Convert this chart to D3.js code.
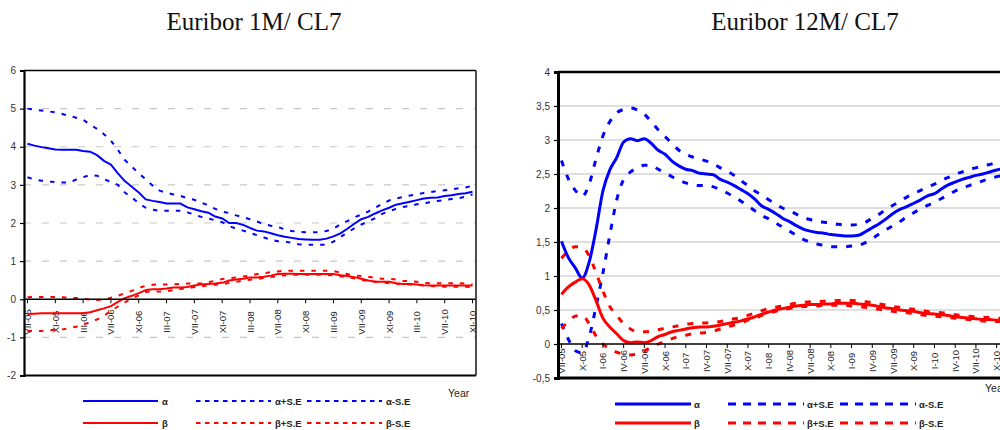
<!DOCTYPE html>
<html><head><meta charset="utf-8">
<script src="https://cdn.jsdelivr.net/npm/d3@7"></script>
<style>
html,body{margin:0;padding:0;background:#fff;}
svg{display:block;}
</style></head>
<body>
<svg id="c" width="1000" height="430"></svg>
<script>
// ---------- DATA ----------
const months = ["VII-05","VIII-05","IX-05","X-05","XI-05","XII-05",
"I-06","II-06","III-06","IV-06","V-06","VI-06","VII-06","VIII-06","IX-06","X-06","XI-06","XII-06",
"I-07","II-07","III-07","IV-07","V-07","VI-07","VII-07","VIII-07","IX-07","X-07","XI-07","XII-07",
"I-08","II-08","III-08","IV-08","V-08","VI-08","VII-08","VIII-08","IX-08","X-08","XI-08","XII-08",
"I-09","II-09","III-09","IV-09","V-09","VI-09","VII-09","VIII-09","IX-09","X-09","XI-09","XII-09",
"I-10","II-10","III-10","IV-10","V-10","VI-10","VII-10","VIII-10","IX-10","X-10","XI-10"];

const leftTicks = ["VII-05","XI-05","III-06","VII-06","XI-06","III-07","VII-07","XI-07","III-08","VII-08","XI-08","III-09","VII-09","XI-09","III-10","VII-10","XI-10"];
const rightTicks = ["VII-05","X-05","I-06","IV-06","VII-06","X-06","I-07","IV-07","VII-07","X-07","I-08","IV-08","VII-08","X-08","I-09","IV-09","VII-09","X-09","I-10","IV-10","VII-10","X-10"];

const leftYTicks = [-2,-1,0,1,2,3,4,5,6];
const rightYTicks = [-0.5,0,0.5,1,1.5,2,2.5,3,3.5,4];

const titleLeft = "Euribor 1M/ CL7";
const titleRight = "Euribor 12M/ CL7";
const legendLabels = ["α","α+S.E","α-S.E","β","β+S.E","β-S.E"];

// Euribor 1M
const alpha1M = [4.08,4.03,3.99,3.96,3.93,3.92,3.92,3.92,3.89,3.87,3.78,3.63,3.53,3.30,3.10,2.95,2.80,2.62,2.58,2.55,2.51,2.51,2.51,2.41,2.36,2.31,2.27,2.17,2.12,2.00,2.00,1.95,1.87,1.80,1.78,1.73,1.68,1.64,1.61,1.58,1.57,1.56,1.56,1.59,1.65,1.73,1.85,1.98,2.10,2.16,2.25,2.33,2.40,2.48,2.52,2.56,2.60,2.64,2.66,2.67,2.71,2.73,2.76,2.78,2.82];
const alphaP1M = [5.00,4.97,4.95,4.93,4.90,4.86,4.81,4.76,4.71,4.58,4.47,4.33,4.16,3.92,3.65,3.48,3.30,3.15,2.98,2.85,2.79,2.75,2.71,2.65,2.61,2.53,2.47,2.37,2.30,2.26,2.20,2.15,2.10,2.04,1.97,1.93,1.90,1.83,1.79,1.77,1.76,1.76,1.76,1.79,1.85,1.97,2.05,2.15,2.22,2.30,2.40,2.50,2.59,2.64,2.68,2.72,2.75,2.79,2.81,2.84,2.86,2.88,2.91,2.93,2.98];
const alphaM1M = [3.20,3.14,3.11,3.09,3.07,3.06,3.06,3.14,3.20,3.26,3.24,3.15,3.08,3.00,2.80,2.67,2.52,2.40,2.35,2.32,2.32,2.32,2.32,2.28,2.22,2.16,2.12,2.07,2.02,1.92,1.85,1.80,1.74,1.68,1.62,1.56,1.52,1.51,1.48,1.44,1.43,1.43,1.43,1.43,1.51,1.63,1.75,1.86,1.96,2.04,2.13,2.24,2.31,2.37,2.42,2.45,2.49,2.52,2.55,2.58,2.60,2.63,2.65,2.69,2.75];
const beta1M = [-0.39,-0.38,-0.37,-0.37,-0.37,-0.37,-0.37,-0.37,-0.37,-0.34,-0.29,-0.24,-0.18,-0.07,0.03,0.09,0.16,0.24,0.26,0.26,0.28,0.31,0.31,0.32,0.36,0.39,0.40,0.41,0.43,0.49,0.52,0.54,0.57,0.57,0.59,0.62,0.66,0.67,0.67,0.66,0.66,0.66,0.66,0.66,0.66,0.63,0.61,0.58,0.54,0.49,0.46,0.46,0.46,0.42,0.40,0.40,0.39,0.37,0.36,0.36,0.36,0.36,0.36,0.36,0.36];
const betaP1M = [0.05,0.06,0.06,0.06,0.06,0.05,0.04,0.03,0.01,-0.01,-0.02,-0.01,0.04,0.09,0.16,0.22,0.30,0.35,0.38,0.39,0.39,0.39,0.40,0.41,0.41,0.42,0.45,0.48,0.53,0.55,0.57,0.60,0.62,0.66,0.68,0.71,0.73,0.75,0.75,0.75,0.75,0.75,0.75,0.75,0.74,0.70,0.66,0.62,0.61,0.59,0.56,0.54,0.54,0.52,0.48,0.48,0.46,0.43,0.42,0.42,0.42,0.42,0.42,0.41,0.39];
const betaM1M = [-0.83,-0.83,-0.83,-0.82,-0.80,-0.79,-0.76,-0.72,-0.67,-0.60,-0.53,-0.43,-0.31,-0.19,-0.08,0.02,0.10,0.19,0.21,0.20,0.21,0.24,0.27,0.29,0.32,0.34,0.37,0.38,0.39,0.43,0.46,0.49,0.51,0.53,0.56,0.58,0.61,0.63,0.64,0.64,0.64,0.64,0.64,0.64,0.63,0.60,0.58,0.55,0.51,0.48,0.46,0.44,0.42,0.41,0.39,0.39,0.38,0.36,0.35,0.34,0.33,0.33,0.33,0.33,0.32];

// Euribor 12M
const alpha12M = [1.51,1.27,1.12,0.97,1.20,1.68,2.25,2.56,2.74,2.97,3.02,2.99,3.02,2.95,2.85,2.79,2.69,2.62,2.57,2.55,2.51,2.50,2.49,2.42,2.38,2.33,2.27,2.21,2.13,2.03,1.98,1.92,1.85,1.80,1.74,1.69,1.66,1.64,1.63,1.61,1.60,1.59,1.59,1.60,1.65,1.71,1.77,1.84,1.92,1.98,2.02,2.07,2.12,2.18,2.21,2.28,2.34,2.38,2.42,2.45,2.48,2.50,2.53,2.56,2.58];
const alphaP12M = [2.70,2.43,2.26,2.17,2.35,2.72,3.06,3.27,3.40,3.45,3.47,3.44,3.38,3.27,3.15,3.05,2.95,2.85,2.79,2.75,2.72,2.69,2.65,2.59,2.54,2.48,2.40,2.33,2.25,2.19,2.12,2.06,2.00,1.96,1.91,1.86,1.83,1.80,1.79,1.78,1.76,1.75,1.75,1.76,1.79,1.85,1.91,1.98,2.04,2.10,2.16,2.21,2.26,2.31,2.35,2.41,2.45,2.50,2.53,2.57,2.59,2.62,2.64,2.67,2.70];
const alphaM12M = [0.30,0.07,-0.10,-0.13,0.10,0.55,1.04,1.60,2.12,2.42,2.53,2.59,2.63,2.63,2.57,2.52,2.46,2.41,2.37,2.34,2.33,2.33,2.31,2.27,2.22,2.16,2.10,2.03,1.96,1.89,1.84,1.78,1.72,1.66,1.60,1.54,1.50,1.47,1.45,1.43,1.43,1.43,1.44,1.45,1.49,1.55,1.62,1.68,1.74,1.80,1.87,1.93,1.99,2.04,2.08,2.14,2.19,2.25,2.29,2.33,2.36,2.40,2.43,2.46,2.48];
const beta12M = [0.73,0.84,0.91,0.96,0.87,0.64,0.38,0.25,0.15,0.05,0.02,0.03,0.02,0.05,0.11,0.14,0.18,0.20,0.22,0.24,0.25,0.25,0.26,0.28,0.30,0.32,0.34,0.37,0.40,0.44,0.47,0.50,0.52,0.54,0.56,0.57,0.58,0.58,0.59,0.59,0.60,0.60,0.60,0.59,0.58,0.57,0.55,0.53,0.52,0.50,0.49,0.48,0.46,0.45,0.44,0.43,0.42,0.40,0.39,0.38,0.37,0.36,0.36,0.35,0.35];
const betaP12M = [1.26,1.37,1.43,1.42,1.30,1.05,0.78,0.55,0.42,0.30,0.22,0.18,0.18,0.19,0.21,0.23,0.25,0.27,0.29,0.30,0.31,0.31,0.32,0.33,0.35,0.37,0.39,0.42,0.46,0.49,0.52,0.54,0.56,0.58,0.60,0.61,0.62,0.62,0.63,0.63,0.64,0.64,0.64,0.63,0.62,0.61,0.59,0.57,0.55,0.54,0.52,0.51,0.50,0.48,0.47,0.46,0.45,0.43,0.42,0.41,0.40,0.39,0.39,0.38,0.38];
const betaM12M = [0.23,0.33,0.41,0.42,0.30,0.12,0.00,-0.07,-0.12,-0.15,-0.16,-0.15,-0.10,-0.05,0.00,0.04,0.08,0.11,0.13,0.15,0.16,0.17,0.19,0.22,0.25,0.28,0.31,0.35,0.38,0.42,0.45,0.48,0.51,0.52,0.54,0.55,0.55,0.56,0.57,0.57,0.57,0.57,0.56,0.55,0.54,0.53,0.51,0.50,0.48,0.47,0.46,0.45,0.43,0.42,0.41,0.40,0.39,0.38,0.37,0.36,0.35,0.34,0.34,0.33,0.33];

// ---------- DRAW ----------
const svg = d3.select("#c");
const BLUE = "#0000ff", RED = "#ff0000";
const fmt = v => String(v).replace(".", ",");

function drawChart(cfg) {
  const g = svg.append("g");
  const x = d3.scalePoint().domain(months).range([cfg.x0, cfg.x1]).padding(0.5);
  const y = d3.scaleLinear().domain(cfg.yDomain).range([cfg.yBot, cfg.yTop]);

  const cid = "clip" + cfg.id;
  const defs = svg.append("defs");
  defs.append("clipPath").attr("id", cid).append("rect")
    .attr("x", cfg.x0).attr("y", cfg.yTop).attr("width", cfg.x1 - cfg.x0).attr("height", cfg.yBot - cfg.yTop);

  // title
  g.append("text").attr("x", cfg.titleX).attr("y", 30).attr("text-anchor", "middle")
    .attr("font-family", "Liberation Serif, Times New Roman, serif").attr("font-size", 25)
    .attr("fill", "#111").text(cfg.title);

  // gridlines
  g.append("g").selectAll("line").data(cfg.grid).join("line")
    .attr("x1", cfg.x0).attr("x2", cfg.x1)
    .attr("y1", d => y(d)).attr("y2", d => y(d))
    .attr("stroke", cfg.gridColor).attr("stroke-width", 1.2)
    .attr("stroke-dasharray", cfg.gridDash);

  // x axis labels (rotated)
  const lab = g.append("g").attr("clip-path", `url(#${cid})`);
  lab.selectAll("text").data(cfg.xTicks).join("text")
    .attr("transform", d => `translate(${x(d) + 3.5},${cfg.labelY}) rotate(-90)`)
    .attr("text-anchor", "middle")
    .attr("font-family", "Arial, Liberation Sans, sans-serif").attr("font-size", 9.5)
    .attr("fill", "#222").text(d => d);

  // series
  const line = d3.line().x((d, i) => x(months[i])).y(d => y(d));
  if (cfg.smooth) line.curve(d3.curveMonotoneX);
  const sg = g.append("g").attr("clip-path", `url(#${cid})`).attr("fill", "none");
  cfg.series.forEach(s => {
    sg.append("path").datum(s.values).attr("d", line)
      .attr("stroke", s.color).attr("stroke-width", cfg.lw)
      .attr("stroke-dasharray", s.dashed ? cfg.dash : null)
      .attr("stroke-linejoin", "round");
  });

  // zero axis line + ticks
  g.append("line").attr("x1", cfg.x0).attr("x2", cfg.x1).attr("y1", y(0)).attr("y2", y(0))
    .attr("stroke", "#000").attr("stroke-width", 1.3);
  g.append("g").selectAll("line").data(cfg.xTicks).join("line")
    .attr("x1", d => x(d)).attr("x2", d => x(d)).attr("y1", y(0)).attr("y2", y(0) + 4)
    .attr("stroke", "#000").attr("stroke-width", 1);

  // frame
  g.append("line").attr("x1", cfg.x0).attr("x2", cfg.x1).attr("y1", cfg.yTop).attr("y2", cfg.yTop)
    .attr("stroke", "#000").attr("stroke-width", cfg.frameW);
  g.append("line").attr("x1", cfg.x0).attr("x2", cfg.x1).attr("y1", cfg.yBot).attr("y2", cfg.yBot)
    .attr("stroke", "#000").attr("stroke-width", cfg.frameW + 0.5);
  g.append("line").attr("x1", cfg.x1).attr("x2", cfg.x1).attr("y1", cfg.yTop).attr("y2", cfg.yBot)
    .attr("stroke", "#222").attr("stroke-width", cfg.frameW);

  // y axis
  const ya = d3.axisLeft(y).tickValues(cfg.yTicks).tickSize(4).tickPadding(4).tickFormat(fmt);
  const yg = g.append("g").attr("transform", `translate(${cfg.x0},0)`).call(ya);
  yg.select(".domain").attr("stroke", "#000").attr("stroke-width", cfg.axisW);
  yg.selectAll(".tick line").attr("stroke", "#000").attr("stroke-width", 1.2);
  yg.selectAll(".tick text").attr("font-family", "Arial, Liberation Sans, sans-serif")
    .attr("font-size", 10).attr("fill", "#333");

  // Year label
  g.append("text").attr("x", cfg.yearX).attr("y", cfg.yearY)
    .attr("font-family", "Arial, Liberation Sans, sans-serif").attr("font-size", 10.5)
    .attr("fill", "#222").text("Year");

  // legend
  const L = cfg.legend;
  const items = [
    {row: 0, col: 0, color: BLUE, dashed: false},
    {row: 0, col: 1, color: BLUE, dashed: true},
    {row: 0, col: 2, color: BLUE, dashed: true},
    {row: 1, col: 0, color: RED, dashed: false},
    {row: 1, col: 1, color: RED, dashed: true},
    {row: 1, col: 2, color: RED, dashed: true}
  ];
  const lg = g.append("g");
  items.forEach((it, k) => {
    const ly = L.rows[it.row];
    const lx = L.cols[it.col];
    lg.append("line").attr("x1", lx).attr("x2", lx + L.len).attr("y1", ly).attr("y2", ly)
      .attr("stroke", it.color).attr("stroke-width", L.lw)
      .attr("stroke-dasharray", it.dashed ? L.dash : null);
    lg.append("text").attr("x", lx + L.len + L.gap).attr("y", ly + 3.5)
      .attr("font-family", "Arial, Liberation Sans, sans-serif").attr("font-weight", "bold")
      .attr("font-size", 9.5).attr("fill", "#222").text(legendLabels[k]);
  });
}

drawChart({
  id: "L", title: titleLeft, titleX: 254,
  x0: 24, x1: 476, yTop: 70.5, yBot: 375.5, yDomain: [-2, 6], yTicks: leftYTicks,
  grid: [-1, 1, 2, 3, 4, 5], gridColor: "#c8c8c8", gridDash: "7,11",
  xTicks: leftTicks, labelY: 322, smooth: false, lw: 2, dash: "4.5,7",
  frameW: 1.6, axisW: 2.2, yearX: 448, yearY: 397,
  series: [
    {values: alphaP1M, color: BLUE, dashed: true},
    {values: alphaM1M, color: BLUE, dashed: true},
    {values: betaP1M, color: RED, dashed: true},
    {values: betaM1M, color: RED, dashed: true},
    {values: alpha1M, color: BLUE, dashed: false},
    {values: beta1M, color: RED, dashed: false}
  ],
  legend: {rows: [401, 423], cols: [83, 196, 307], len: 75, gap: 4, lw: 2, dash: "4.5,4.5"}
});

drawChart({
  id: "R", title: titleRight, titleX: 805,
  x0: 558, x1: 1007, yTop: 72, yBot: 378, yDomain: [-0.5, 4], yTicks: rightYTicks,
  grid: [0.5, 1, 1.5, 2, 2.5, 3, 3.5], gridColor: "#c0c0c0", gridDash: null,
  xTicks: rightTicks, labelY: 361, smooth: true, lw: 3, dash: "6,9",
  frameW: 2.5, axisW: 3, yearX: 985, yearY: 392,
  series: [
    {values: alphaP12M, color: BLUE, dashed: true},
    {values: alphaM12M, color: BLUE, dashed: true},
    {values: betaP12M, color: RED, dashed: true},
    {values: betaM12M, color: RED, dashed: true},
    {values: alpha12M, color: BLUE, dashed: false},
    {values: beta12M, color: RED, dashed: false}
  ],
  legend: {rows: [404, 423], cols: [615, 728, 840], len: 76, gap: 3, lw: 3, dash: "8,7"}
});
</script>
</body></html>
